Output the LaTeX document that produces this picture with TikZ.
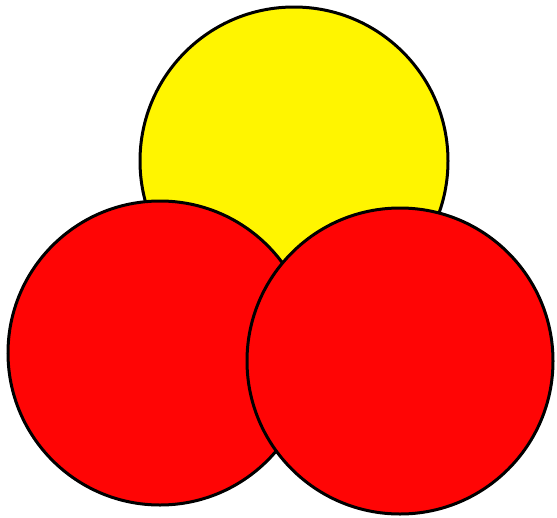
\documentclass[tikz,border=0pt]{standalone}
\begin{document}
\begin{tikzpicture}[x=1pt,y=-1pt,
  disc/.style={draw=black,line width=3pt},
  yel/.style={disc,fill={rgb,255:red,255;green,245;blue,0}},
  rd/.style={disc,fill={rgb,255:red,255;green,5;blue,5}}]
\useasboundingbox (0,0) rectangle (557,517);
\fill[white] (0,0) rectangle (557,517);
\draw[yel] (294,161) circle (154) coordinate (top);
\draw[rd] (160,353) circle (152) coordinate (left);
\draw[rd] (400,361) circle (153) coordinate (right);
\end{tikzpicture}
\end{document}
